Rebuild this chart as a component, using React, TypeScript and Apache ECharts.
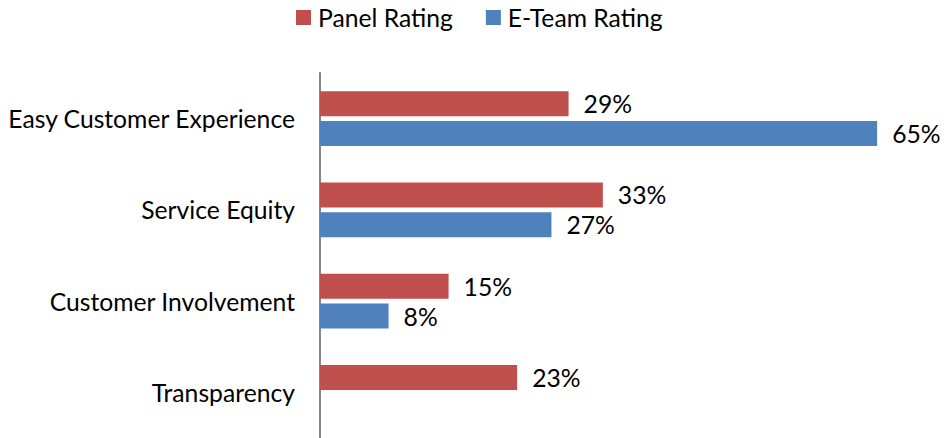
import React, { useEffect, useRef } from "react";
import * as echarts from "echarts";

const categories = ["Easy Customer Experience", "Service Equity", "Customer Involvement", "Transparency"];
const panelRating = [29, 33, 15, 23];
const eTeamRating: (number | null)[] = [65, 27, 8, null];
const seriesNames = ["Panel Rating", "E-Team Rating"];

const FONT = "Lato";
const FS = 24.7;

export default function App() {
  const ref = useRef<HTMLDivElement>(null);
  useEffect(() => {
    document.body.style.margin = "0";
    const chart = echarts.init(ref.current!, null, { renderer: "svg" });
    const label = {
      show: true,
      position: "right" as const,
      distance: 15,
      formatter: "{c}%",
      color: "#000",
      fontFamily: FONT,
      fontSize: FS,
    };
    chart.setOption({
      animation: false,
      textStyle: { fontFamily: FONT },
      legend: {
        top: 0,
        left: 291,
        itemWidth: 15,
        itemHeight: 15,
        itemGap: 33,
        icon: "rect",
        textStyle: { fontFamily: FONT, fontSize: FS, color: "#000", padding: [0, 0, 0, 2] },
        data: seriesNames,
      },
      grid: { left: 320, right: 24, top: 73, bottom: 0, containLabel: false },
      xAxis: {
        type: "value",
        min: 0,
        max: 70,
        show: false,
      },
      yAxis: {
        type: "category",
        inverse: true,
        data: categories,
        axisLine: { show: true, lineStyle: { color: "#868686", width: 2 } },
        axisTick: { show: false },
        axisLabel: { margin: 25, color: "#000", fontFamily: FONT, fontSize: FS },
      },
      series: [
        {
          name: seriesNames[0],
          type: "bar",
          data: panelRating,
          itemStyle: { color: "#C0504D" },
          barCategoryGap: "40%",
          barGap: "20%",
          label,
        },
        {
          name: seriesNames[1],
          type: "bar",
          data: eTeamRating,
          itemStyle: { color: "#4F81BD" },
          barCategoryGap: "40%",
          barGap: "20%",
          label,
        },
      ],
    });
    return () => chart.dispose();
  }, []);
  return <div ref={ref} style={{ width: 944, height: 438 }} />;
}
